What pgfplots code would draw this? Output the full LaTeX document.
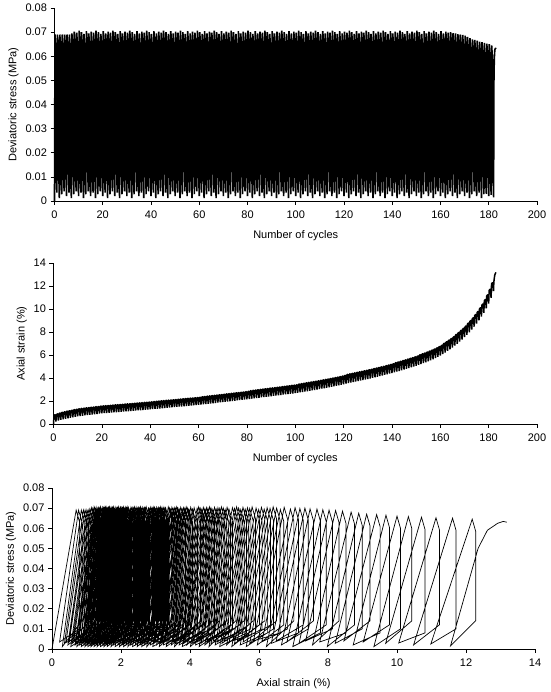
\documentclass[border=0pt]{standalone}
\usepackage{fontspec}
\setmainfont{Liberation Sans}
\usepackage{pgfplots}
\usepackage{pgfplotstable}
\pgfplotsset{compat=1.18}
\pgfplotstableread{
N q e
0 0 0
0.2 0.069 0.7
0.55 0.063 0.8
0.75 0.010 0.8
1 0.0035 0.22
1.2 0.069 0.77
1.55 0.063 0.87
1.75 0.014 0.87
2 0.0012 0.30
2.2 0.069 0.85
2.55 0.063 0.95
2.75 0.008 0.95
3 0.0028 0.36
3.2 0.069 0.91
3.55 0.063 1.01
3.75 0.012 1.01
4 0.004 0.41
4.2 0.069 0.96
4.55 0.063 1.06
4.75 0.010 1.06
5 0.002 0.46
5.2 0.069 1.01
5.55 0.063 1.11
5.75 0.014 1.11
6 0.0035 0.50
6.2 0.069 1.05
6.55 0.063 1.15
6.75 0.008 1.15
7 0.0012 0.545
7.2 0.0695 1.095
7.55 0.0635 1.195
7.75 0.012 1.195
8 0.0028 0.59
8.2 0.0702 1.14
8.55 0.0642 1.24
8.75 0.010 1.24
9 0.004 0.63
9.2 0.0698 1.18
9.55 0.0638 1.28
9.75 0.014 1.28
10 0.002 0.67
10.2 0.0706 1.22
10.55 0.0646 1.32
10.75 0.008 1.32
11 0.0035 0.70
11.2 0.0700 1.25
11.55 0.0640 1.35
11.75 0.012 1.35
12 0.0012 0.72
12.2 0.0693 1.27
12.55 0.0633 1.37
12.75 0.010 1.37
13 0.0028 0.75
13.2 0.0704 1.30
13.55 0.0644 1.40
13.75 0.014 1.40
14 0.004 0.77
14.2 0.0695 1.32
14.55 0.0635 1.42
14.75 0.008 1.42
15 0.002 0.80
15.2 0.0702 1.35
15.55 0.0642 1.45
15.75 0.012 1.45
16 0.0035 0.82
16.2 0.0698 1.37
16.55 0.0638 1.47
16.75 0.010 1.47
17 0.0012 0.85
17.2 0.0706 1.40
17.55 0.0646 1.50
17.75 0.014 1.50
18 0.0028 0.87
18.2 0.0700 1.42
18.55 0.0640 1.52
18.75 0.008 1.52
19 0.004 0.90
19.2 0.0693 1.45
19.55 0.0633 1.55
19.75 0.012 1.55
20 0.002 0.92
20.2 0.0704 1.47
20.55 0.0644 1.57
20.75 0.010 1.57
21 0.0035 0.94
21.2 0.0695 1.49
21.55 0.0635 1.59
21.75 0.014 1.59
22 0.0012 0.955
22.2 0.0702 1.505
22.55 0.0642 1.605
22.75 0.008 1.605
23 0.0028 0.97
23.2 0.0698 1.52
23.55 0.0638 1.62
23.75 0.012 1.62
24 0.004 0.99
24.2 0.0706 1.54
24.55 0.0646 1.64
24.75 0.010 1.64
25 0.002 1.01
25.2 0.0700 1.56
25.55 0.0640 1.66
25.75 0.014 1.66
26 0.0035 1.025
26.2 0.0693 1.575
26.55 0.0633 1.675
26.75 0.008 1.675
27 0.0012 1.04
27.2 0.0704 1.59
27.55 0.0644 1.69
27.75 0.012 1.69
28 0.0028 1.06
28.2 0.0695 1.61
28.55 0.0635 1.71
28.75 0.010 1.71
29 0.004 1.08
29.2 0.0702 1.63
29.55 0.0642 1.73
29.75 0.014 1.73
30 0.002 1.095
30.2 0.0698 1.645
30.55 0.0638 1.745
30.75 0.008 1.745
31 0.0035 1.11
31.2 0.0706 1.66
31.55 0.0646 1.76
31.75 0.012 1.76
32 0.0012 1.13
32.2 0.0700 1.68
32.55 0.0640 1.78
32.75 0.010 1.78
33 0.0028 1.15
33.2 0.0693 1.70
33.55 0.0633 1.80
33.75 0.014 1.80
34 0.004 1.165
34.2 0.0704 1.715
34.55 0.0644 1.815
34.75 0.008 1.815
35 0.002 1.18
35.2 0.0695 1.73
35.55 0.0635 1.83
35.75 0.012 1.83
36 0.0035 1.20
36.2 0.0702 1.75
36.55 0.0642 1.85
36.75 0.010 1.85
37 0.0012 1.22
37.2 0.0698 1.77
37.55 0.0638 1.87
37.75 0.014 1.87
38 0.0028 1.235
38.2 0.0706 1.785
38.55 0.0646 1.885
38.75 0.008 1.885
39 0.004 1.25
39.2 0.0700 1.80
39.55 0.0640 1.90
39.75 0.012 1.90
40 0.002 1.27
40.2 0.0693 1.82
40.55 0.0633 1.92
40.75 0.010 1.92
41 0.0035 1.29
41.2 0.0704 1.85
41.55 0.0644 1.95
41.75 0.014 1.95
42 0.0012 1.31
42.2 0.0695 1.87
42.55 0.0635 1.97
42.75 0.008 1.97
43 0.0028 1.33
43.2 0.0702 1.89
43.55 0.0642 1.99
43.75 0.012 1.99
44 0.004 1.35
44.2 0.0698 1.91
44.55 0.0638 2.01
44.75 0.010 2.01
45 0.002 1.37
45.2 0.0706 1.93
45.55 0.0646 2.03
45.75 0.014 2.03
46 0.0035 1.385
46.2 0.0700 1.945
46.55 0.0640 2.045
46.75 0.008 2.045
47 0.0012 1.405
47.2 0.0693 1.965
47.55 0.0633 2.065
47.75 0.012 2.065
48 0.0028 1.425
48.2 0.0704 1.985
48.55 0.0644 2.085
48.75 0.010 2.085
49 0.004 1.445
49.2 0.0695 2.005
49.55 0.0635 2.105
49.75 0.014 2.105
50 0.002 1.465
50.2 0.0702 2.025
50.55 0.0642 2.125
50.75 0.008 2.125
51 0.0035 1.485
51.2 0.0698 2.045
51.55 0.0638 2.145
51.75 0.012 2.145
52 0.0012 1.505
52.2 0.0706 2.065
52.55 0.0646 2.165
52.75 0.010 2.165
53 0.0028 1.525
53.2 0.0700 2.085
53.55 0.0640 2.185
53.75 0.014 2.185
54 0.004 1.545
54.2 0.0693 2.105
54.55 0.0633 2.205
54.75 0.008 2.205
55 0.002 1.565
55.2 0.0704 2.125
55.55 0.0644 2.225
55.75 0.012 2.225
56 0.0035 1.58
56.2 0.0695 2.14
56.55 0.0635 2.24
56.75 0.010 2.24
57 0.0012 1.60
57.2 0.0702 2.16
57.55 0.0642 2.26
57.75 0.014 2.26
58 0.0028 1.62
58.2 0.0698 2.18
58.55 0.0638 2.28
58.75 0.008 2.28
59 0.004 1.64
59.2 0.0706 2.20
59.55 0.0646 2.30
59.75 0.012 2.30
60 0.002 1.66
60.2 0.0700 2.22
60.55 0.0640 2.32
60.75 0.010 2.32
61 0.0035 1.685
61.2 0.0693 2.265
61.55 0.0633 2.365
61.75 0.014 2.365
62 0.0012 1.71
62.2 0.0704 2.29
62.55 0.0644 2.39
62.75 0.008 2.39
63 0.0028 1.735
63.2 0.0695 2.315
63.55 0.0635 2.415
63.75 0.012 2.415
64 0.004 1.76
64.2 0.0702 2.34
64.55 0.0642 2.44
64.75 0.010 2.44
65 0.002 1.78
65.2 0.0698 2.36
65.55 0.0638 2.46
65.75 0.014 2.46
66 0.0035 1.805
66.2 0.0706 2.385
66.55 0.0646 2.485
66.75 0.008 2.485
67 0.0012 1.83
67.2 0.0700 2.41
67.55 0.0640 2.51
67.75 0.012 2.51
68 0.0028 1.855
68.2 0.0693 2.435
68.55 0.0633 2.535
68.75 0.010 2.535
69 0.004 1.88
69.2 0.0704 2.46
69.55 0.0644 2.56
69.75 0.014 2.56
70 0.002 1.905
70.2 0.0695 2.485
70.55 0.0635 2.585
70.75 0.008 2.585
71 0.0035 1.93
71.2 0.0702 2.51
71.55 0.0642 2.61
71.75 0.012 2.61
72 0.0012 1.955
72.2 0.0698 2.535
72.55 0.0638 2.635
72.75 0.010 2.635
73 0.0028 1.98
73.2 0.0706 2.56
73.55 0.0646 2.66
73.75 0.014 2.66
74 0.004 2.00
74.2 0.0700 2.58
74.55 0.0640 2.68
74.75 0.008 2.68
75 0.002 2.025
75.2 0.0693 2.605
75.55 0.0633 2.705
75.75 0.012 2.705
76 0.0035 2.05
76.2 0.0704 2.63
76.55 0.0644 2.73
76.75 0.010 2.73
77 0.0012 2.075
77.2 0.0695 2.655
77.55 0.0635 2.755
77.75 0.014 2.755
78 0.0028 2.10
78.2 0.0702 2.68
78.55 0.0642 2.78
78.75 0.008 2.78
79 0.004 2.125
79.2 0.0698 2.705
79.55 0.0638 2.805
79.75 0.012 2.805
80 0.002 2.15
80.2 0.0706 2.73
80.55 0.0646 2.83
80.75 0.010 2.83
81 0.0035 2.175
81.2 0.0700 2.795
81.55 0.0640 2.895
81.75 0.014 2.895
82 0.0012 2.20
82.2 0.0693 2.82
82.55 0.0633 2.92
82.75 0.008 2.92
83 0.0028 2.23
83.2 0.0704 2.85
83.55 0.0644 2.95
83.75 0.012 2.95
84 0.004 2.255
84.2 0.0695 2.875
84.55 0.0635 2.975
84.75 0.010 2.975
85 0.002 2.28
85.2 0.0702 2.90
85.55 0.0642 3.00
85.75 0.014 3.00
86 0.0035 2.31
86.2 0.0698 2.93
86.55 0.0638 3.03
86.75 0.008 3.03
87 0.0012 2.335
87.2 0.0706 2.955
87.55 0.0646 3.055
87.75 0.012 3.055
88 0.0028 2.36
88.2 0.0700 2.98
88.55 0.0640 3.08
88.75 0.010 3.08
89 0.004 2.39
89.2 0.0693 3.01
89.55 0.0633 3.11
89.75 0.014 3.11
90 0.002 2.415
90.2 0.0704 3.035
90.55 0.0644 3.135
90.75 0.008 3.135
91 0.0035 2.44
91.2 0.0695 3.06
91.55 0.0635 3.16
91.75 0.012 3.16
92 0.0012 2.47
92.2 0.0702 3.09
92.55 0.0642 3.19
92.75 0.010 3.19
93 0.0028 2.495
93.2 0.0698 3.115
93.55 0.0638 3.215
93.75 0.014 3.215
94 0.004 2.52
94.2 0.0706 3.14
94.55 0.0646 3.24
94.75 0.008 3.24
95 0.002 2.55
95.2 0.0700 3.17
95.55 0.0640 3.27
95.75 0.012 3.27
96 0.0035 2.575
96.2 0.0693 3.195
96.55 0.0633 3.295
96.75 0.010 3.295
97 0.0012 2.60
97.2 0.0704 3.22
97.55 0.0644 3.32
97.75 0.014 3.32
98 0.0028 2.63
98.2 0.0695 3.25
98.55 0.0635 3.35
98.75 0.008 3.35
99 0.004 2.655
99.2 0.0702 3.275
99.55 0.0642 3.375
99.75 0.012 3.375
100 0.002 2.68
100.2 0.0698 3.30
100.55 0.0638 3.40
100.75 0.010 3.40
101 0.0035 2.71
101.2 0.0706 3.37
101.55 0.0646 3.47
101.75 0.014 3.47
102 0.0012 2.745
102.2 0.0700 3.405
102.55 0.0640 3.505
102.75 0.008 3.505
103 0.0028 2.78
103.2 0.0693 3.44
103.55 0.0633 3.54
103.75 0.012 3.54
104 0.004 2.815
104.2 0.0704 3.475
104.55 0.0644 3.575
104.75 0.010 3.575
105 0.002 2.85
105.2 0.0695 3.51
105.55 0.0635 3.61
105.75 0.014 3.61
106 0.0035 2.885
106.2 0.0702 3.545
106.55 0.0642 3.645
106.75 0.008 3.645
107 0.0012 2.92
107.2 0.0698 3.58
107.55 0.0638 3.68
107.75 0.012 3.68
108 0.0028 2.955
108.2 0.0706 3.615
108.55 0.0646 3.715
108.75 0.010 3.715
109 0.004 2.99
109.2 0.0700 3.65
109.55 0.0640 3.75
109.75 0.014 3.75
110 0.002 3.03
110.2 0.0693 3.69
110.55 0.0633 3.79
110.75 0.008 3.79
111 0.0035 3.07
111.2 0.0704 3.73
111.55 0.0644 3.83
111.75 0.012 3.83
112 0.0012 3.11
112.2 0.0695 3.77
112.55 0.0635 3.87
112.75 0.010 3.87
113 0.0028 3.15
113.2 0.0702 3.81
113.55 0.0642 3.91
113.75 0.014 3.91
114 0.004 3.19
114.2 0.0698 3.85
114.55 0.0638 3.95
114.75 0.008 3.95
115 0.002 3.23
115.2 0.0706 3.89
115.55 0.0646 3.99
115.75 0.012 3.99
116 0.0035 3.27
116.2 0.0700 3.93
116.55 0.0640 4.03
116.75 0.010 4.03
117 0.0012 3.31
117.2 0.0693 3.97
117.55 0.0633 4.07
117.75 0.014 4.07
118 0.0028 3.36
118.2 0.0704 4.02
118.55 0.0644 4.12
118.75 0.008 4.12
119 0.004 3.41
119.2 0.0695 4.07
119.55 0.0635 4.17
119.75 0.012 4.17
120 0.002 3.46
120.2 0.0702 4.12
120.55 0.0642 4.22
120.75 0.010 4.22
121 0.0035 3.505
121.2 0.0698 4.205
121.55 0.0638 4.305
121.75 0.014 4.305
122 0.0012 3.55
122.2 0.0706 4.25
122.55 0.0646 4.35
122.75 0.008 4.35
123 0.0028 3.595
123.2 0.0700 4.295
123.55 0.0640 4.395
123.75 0.012 4.395
124 0.004 3.64
124.2 0.0693 4.34
124.55 0.0633 4.44
124.75 0.010 4.44
125 0.002 3.685
125.2 0.0704 4.385
125.55 0.0644 4.485
125.75 0.014 4.485
126 0.0035 3.73
126.2 0.0695 4.43
126.55 0.0635 4.53
126.75 0.008 4.53
127 0.0012 3.775
127.2 0.0702 4.475
127.55 0.0642 4.575
127.75 0.012 4.575
128 0.0028 3.82
128.2 0.0698 4.52
128.55 0.0638 4.62
128.75 0.010 4.62
129 0.004 3.865
129.2 0.0706 4.565
129.55 0.0646 4.665
129.75 0.014 4.665
130 0.002 3.91
130.2 0.0700 4.61
130.55 0.0640 4.71
130.75 0.008 4.71
131 0.0035 3.96
131.2 0.0693 4.66
131.55 0.0633 4.76
131.75 0.012 4.76
132 0.0012 4.01
132.2 0.0704 4.71
132.55 0.0644 4.81
132.75 0.010 4.81
133 0.0028 4.06
133.2 0.0695 4.76
133.55 0.0635 4.86
133.75 0.014 4.86
134 0.004 4.11
134.2 0.0702 4.81
134.55 0.0642 4.91
134.75 0.008 4.91
135 0.002 4.16
135.2 0.0698 4.86
135.55 0.0638 4.96
135.75 0.012 4.96
136 0.0035 4.21
136.2 0.0706 4.91
136.55 0.0646 5.01
136.75 0.010 5.01
137 0.0012 4.265
137.2 0.0700 4.965
137.55 0.0640 5.065
137.75 0.014 5.065
138 0.0028 4.32
138.2 0.0693 5.02
138.55 0.0633 5.12
138.75 0.008 5.12
139 0.004 4.375
139.2 0.0704 5.075
139.55 0.0644 5.175
139.75 0.012 5.175
140 0.002 4.43
140.2 0.0695 5.13
140.55 0.0635 5.23
140.75 0.010 5.23
141 0.0035 4.49
141.2 0.0702 5.23
141.55 0.0642 5.33
141.75 0.014 5.33
142 0.0012 4.55
142.2 0.0698 5.29
142.55 0.0638 5.39
142.75 0.008 5.39
143 0.0028 4.61
143.2 0.0706 5.35
143.55 0.0646 5.45
143.75 0.012 5.45
144 0.004 4.67
144.2 0.0700 5.41
144.55 0.0640 5.51
144.75 0.010 5.51
145 0.002 4.73
145.2 0.0693 5.47
145.55 0.0633 5.57
145.75 0.014 5.57
146 0.0035 4.795
146.2 0.0704 5.535
146.55 0.0644 5.635
146.75 0.008 5.635
147 0.0012 4.86
147.2 0.0695 5.60
147.55 0.0635 5.70
147.75 0.012 5.70
148 0.0028 4.925
148.2 0.0702 5.665
148.55 0.0642 5.765
148.75 0.010 5.765
149 0.004 4.99
149.2 0.0698 5.73
149.55 0.0638 5.83
149.75 0.014 5.83
150 0.002 5.06
150.2 0.0706 5.80
150.55 0.0646 5.90
150.75 0.008 5.90
151 0.0035 5.135
151.2 0.0700 5.915
151.55 0.0640 6.015
151.75 0.012 6.015
152 0.0012 5.21
152.2 0.0693 5.99
152.55 0.0633 6.09
152.75 0.010 6.09
153 0.0028 5.29
153.2 0.0704 6.07
153.55 0.0644 6.17
153.75 0.014 6.17
154 0.004 5.37
154.2 0.0695 6.15
154.55 0.0635 6.25
154.75 0.008 6.25
155 0.002 5.455
155.2 0.0702 6.235
155.55 0.0642 6.335
155.75 0.012 6.335
156 0.0035 5.54
156.2 0.0698 6.32
156.55 0.0638 6.42
156.75 0.010 6.42
157 0.0012 5.63
157.2 0.0706 6.41
157.55 0.0646 6.51
157.75 0.014 6.51
158 0.0028 5.73
158.2 0.0700 6.51
158.55 0.0640 6.61
158.75 0.008 6.61
159 0.004 5.84
159.2 0.0693 6.62
159.55 0.0633 6.72
159.75 0.012 6.72
160 0.002 5.95
160.2 0.0704 6.73
160.55 0.0644 6.83
160.75 0.010 6.83
161 0.0035 6.08
161.2 0.0695 6.91
161.55 0.0635 7.01
161.75 0.014 7.01
162 0.0012 6.215
162.2 0.0702 7.045
162.55 0.0642 7.145
162.75 0.008 7.145
163 0.0028 6.355
163.2 0.0698 7.185
163.55 0.0638 7.285
163.75 0.012 7.285
164 0.004 6.50
164.2 0.0700 7.33
164.55 0.0640 7.43
164.75 0.010 7.43
165 0.002 6.65
165.2 0.0696 7.48
165.55 0.0636 7.58
165.75 0.014 7.58
166 0.0035 6.81
166.2 0.0695 7.68
166.55 0.0635 7.78
166.75 0.008 7.78
167 0.0012 6.98
167.2 0.0692 7.85
167.55 0.0632 7.95
167.75 0.012 7.95
168 0.0028 7.16
168.2 0.0690 8.03
168.55 0.0630 8.13
168.75 0.010 8.13
169 0.004 7.35
169.2 0.0688 8.22
169.55 0.0628 8.32
169.75 0.014 8.32
170 0.002 7.55
170.2 0.0685 8.42
170.55 0.0625 8.52
170.75 0.008 8.52
171 0.0035 7.76
171.2 0.0680 8.67
171.55 0.0620 8.77
171.75 0.012 8.77
172 0.0012 7.98
172.2 0.0675 8.89
172.55 0.0615 8.99
172.75 0.010 8.99
173 0.0028 8.21
173.2 0.0670 9.12
173.55 0.0610 9.22
173.75 0.014 9.22
174 0.004 8.46
174.2 0.0668 9.41
174.55 0.0608 9.51
174.75 0.008 9.51
175 0.002 8.73
175.2 0.0665 9.68
175.55 0.0605 9.78
175.75 0.012 9.78
176 0.0035 9.02
176.2 0.0660 10.00
176.55 0.0600 10.10
176.75 0.010 10.10
177 0.0012 9.33
177.2 0.0658 10.33
177.55 0.0598 10.43
177.75 0.014 10.43
178 0.0028 9.67
178.2 0.0655 10.71
178.55 0.0595 10.81
178.75 0.008 10.81
179 0.003 10.05
179.2 0.0652 11.13
179.55 0.0592 11.23
179.75 0.012 11.23
180 0.002 10.48
180.2 0.0650 11.61
180.55 0.0590 11.71
180.75 0.010 11.71
181 0.0025 10.98
181.2 0.0645 12.18
181.55 0.0585 12.28
181.75 0.014 12.28
182 0.0015 11.55
182.15 0.050 12.35
182.3 0.059 12.62
182.5 0.0625 12.92
182.75 0.0634 13.08
183 0.0630 13.18
}\data

\pgfplotsset{
  myax/.style={
    scale only axis,
    anchor=south west,
    axis x line=bottom,
    axis y line=left,
    axis line style={-, black, line width=0.6pt},
    tick align=outside,
    major tick length=4pt,
    tick style={black, line width=0.6pt},
    tick label style={font=\fontsize{11}{13}\selectfont},
    xticklabel style={yshift=-2.5pt},
    label style={font=\fontsize{11}{13}\selectfont},
    xlabel style={yshift=-5pt},
    /pgf/number format/assume math mode=true,
    clip=false,
  },
  stressy/.style={
    ymin=0, ymax=0.08,
    ytick={0,0.01,0.02,0.03,0.04,0.05,0.06,0.07,0.08},
    yticklabels={0,0.01,0.02,0.03,0.04,0.05,0.06,0.07,0.08},
    scaled y ticks=false,
    ylabel={Deviatoric stress (MPa)},
  },
}

\begin{document}
\begin{tikzpicture}
\useasboundingbox (0,0) rectangle (550pt,692pt);
% Panel 1
\begin{axis}[myax, stressy,
  at={(54.5pt,491pt)}, width=482.5pt, height=193pt,
  xmin=0, xmax=200, xtick={0,20,...,200},
  xlabel={Number of cycles}]
\addplot[black, line width=1.6pt, line join=bevel] table[x=N, y=q] {\data};
\end{axis}
% Panel 2
\begin{axis}[myax,
  at={(53.5pt,268pt)}, width=483.5pt, height=161pt,
  xmin=0, xmax=200, xtick={0,20,...,200},
  ymin=0, ymax=14, ytick={0,2,...,14},
  xlabel={Number of cycles}, ylabel={Axial strain (\%)}]
\addplot[black, line width=1.5pt, line join=bevel] table[x=N, y=e] {\data};
\end{axis}
% Panel 3
\begin{axis}[myax, stressy,
  at={(52pt,43pt)}, width=483pt, height=161pt,
  xmin=0, xmax=14, xtick={0,2,...,14},
  xlabel={Axial strain (\%)}]
\addplot[black, line width=0.7pt] table[x=e, y=q] {\data};
\end{axis}
\end{tikzpicture}
\end{document}
